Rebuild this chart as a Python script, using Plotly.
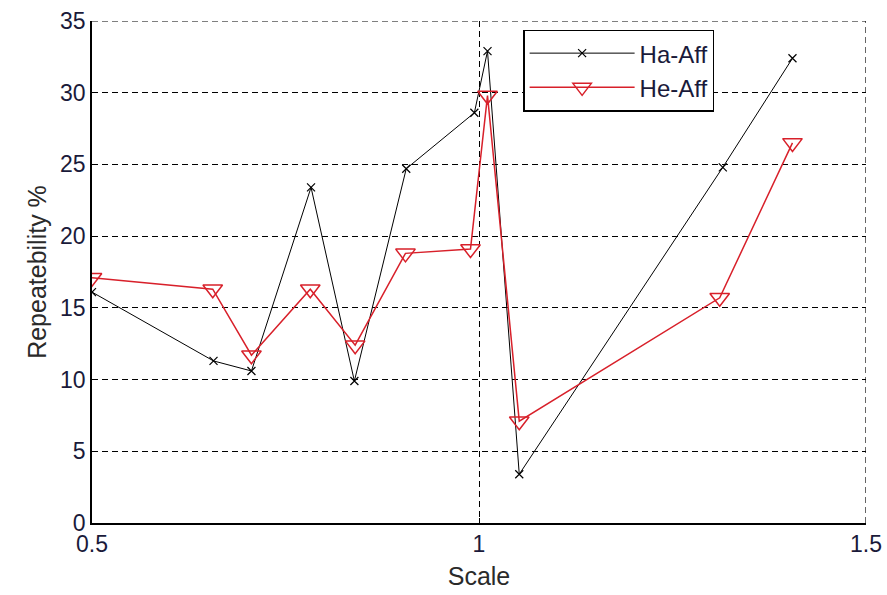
import plotly.graph_objects as go

ha_x = [0.5, 0.657, 0.706, 0.783, 0.839, 0.906, 0.994, 1.011, 1.052, 1.315, 1.405]
ha_y = [16.1, 11.3, 10.6, 23.4, 9.9, 24.7, 28.6, 32.9, 3.4, 24.8, 32.4]

he_x = [0.5, 0.656, 0.706, 0.782, 0.840, 0.905, 0.989, 1.011, 1.052, 1.311, 1.405]
he_y = [17.1, 16.3, 11.7, 16.3, 12.4, 18.8, 19.1, 29.8, 7.1, 15.7, 26.5]

x_ticks = [0.5, 1, 1.5]
x_tick_labels = ["0.5", "1", "1.5"]
y_ticks = [0, 5, 10, 15, 20, 25, 30, 35]
x_range = [0.5, 1.5]
y_range = [0, 35]

fig = go.Figure()
fig.add_trace(go.Scatter(
    x=ha_x, y=ha_y, mode="lines+markers", name="Ha-Aff",
    line=dict(color="black", width=1),
    marker=dict(symbol="x-thin", size=8, line=dict(color="black", width=1.2)),
))
fig.add_trace(go.Scatter(
    x=he_x, y=he_y, mode="lines+markers", name="He-Aff",
    line=dict(color="#d8202a", width=1.5),
    marker=dict(symbol="triangle-down-open", size=17, color="#d8202a",
                line=dict(color="#d8202a", width=1.5)),
))

dash = "6px,4px"
# dashed grid lines at the far edges of the frame (plotly omits them)
fig.add_shape(type="line", x0=x_range[0], x1=x_range[1], y0=y_range[1], y1=y_range[1],
              xref="x", yref="y", line=dict(color="black", width=1.2, dash=dash), layer="below")
fig.add_shape(type="line", x0=x_range[1], x1=x_range[1], y0=y_range[0], y1=y_range[1],
              xref="x", yref="y", line=dict(color="black", width=1.2, dash=dash), layer="below")

font_family = "Liberation Sans, Arial"
tickfont = dict(family=font_family, size=23, color="#1a1a3a")
titlefont = dict(family=font_family, size=25, color="#2a2a2a")
fig.update_layout(
    width=887, height=595,
    margin=dict(l=92, r=21, t=21, b=72),
    paper_bgcolor="white", plot_bgcolor="white",
    showlegend=True,
    legend=dict(x=0.557, y=0.983, xanchor="left", yanchor="top",
                bgcolor="white", bordercolor="black", borderwidth=1.5,
                font=dict(family=font_family, size=24, color="#1a1a3a"),
                itemwidth=105, entrywidth=198, entrywidthmode="pixels"),
    xaxis=dict(range=x_range, tickvals=x_ticks, ticktext=x_tick_labels,
               showgrid=True, gridcolor="black", griddash=dash, gridwidth=1.2,
               showline=True, linecolor="black", linewidth=1.5,
               ticks="inside", ticklen=5, tickcolor="black",
               zeroline=False, tickfont=tickfont, automargin=False,
               title=dict(text="Scale", font=titlefont, standoff=11)),
    yaxis=dict(range=y_range, tickvals=y_ticks,
               showgrid=True, gridcolor="black", griddash=dash, gridwidth=1.2,
               showline=True, linecolor="black", linewidth=1.5,
               ticks="inside", ticklen=5, tickcolor="black",
               zeroline=False, tickfont=tickfont, automargin=False,
               title=dict(text="Repeatebility %", font=titlefont, standoff=6)),
)
fig.write_html("out.html")
